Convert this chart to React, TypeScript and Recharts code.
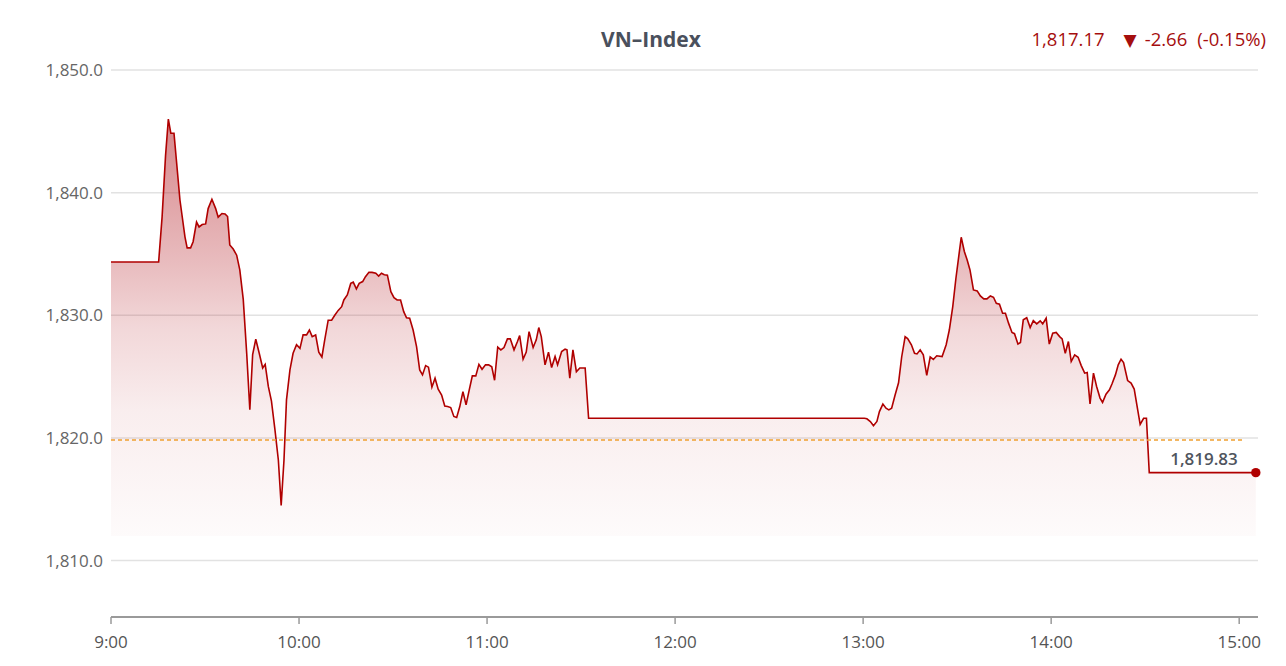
import React from 'react';
import {
  AreaChart, Area, XAxis, YAxis, CartesianGrid, ReferenceLine, ReferenceDot
} from 'recharts';

// minutes after 9:00 and index value
const morningTimes = [
  0, 15.2, 16.3, 17.4, 18.3, 19.1, 20.1, 22.0, 23.6, 24.3, 25.4, 26.2, 27.3, 28.1, 29.1, 30.2,
  31.0, 32.2, 33.4, 34.2, 35.4, 36.4, 37.2, 37.9, 39.0, 40.1, 41.1, 42.2, 43.3, 44.3, 45.2, 46.2,
  47.3, 48.4, 49.2, 50.2, 51.2, 52.3, 53.4, 54.3, 55.2, 56.0, 57.1, 58.1, 59.2, 60.3, 61.3, 62.4,
  63.3, 64.2, 65.3, 66.3, 67.3, 68.2, 69.3, 70.4, 71.4, 72.5, 73.6, 74.3, 75.4, 76.5, 77.3, 78.3,
  79.2, 80.3, 81.2, 82.3, 83.3, 84.5, 85.4, 86.3, 87.2, 88.2, 89.3, 90.3, 91.3, 92.4, 93.4, 94.3,
  95.3, 96.4, 97.5, 98.5, 99.4, 100.4, 101.3, 102.4, 103.4, 104.4, 105.5, 106.5, 107.4, 108.4,
  109.4, 110.3, 111.3, 112.3, 113.3, 114.3, 115.3, 116.4, 117.4, 118.4, 119.5, 120.5, 121.5,
  122.4, 123.4, 124.4, 125.4, 126.5, 127.4, 128.6, 129.7, 130.4, 131.5, 132.5, 133.4, 134.7,
  135.7, 136.5, 137.3, 138.5, 139.6, 140.6, 141.7, 142.5, 143.8, 144.9, 145.5, 146.4, 147.4,
  148.5, 149.6, 151.3, 152.4,
];
const morningValues = [
  1834.35, 1834.35, 1838.0, 1843.0, 1846.0, 1844.84, 1844.84, 1839.4, 1836.4, 1835.5, 1835.5, 1836.0, 1837.6, 1837.2, 1837.4, 1837.45,
  1838.7, 1839.46, 1838.7, 1838.0, 1838.3, 1838.26, 1838.05, 1835.74, 1835.4, 1834.9, 1833.7, 1831.3, 1826.9, 1822.3, 1826.8, 1828.05,
  1826.9, 1825.7, 1826.0, 1824.2, 1823.0, 1820.7, 1818.2, 1814.5, 1818.2, 1823.1, 1825.55, 1826.9, 1827.6, 1827.3, 1828.4, 1828.4,
  1828.8, 1828.26, 1828.4, 1827.0, 1826.6, 1828.0, 1829.6, 1829.6, 1830.0, 1830.4, 1830.7, 1831.25, 1831.66, 1832.6, 1832.7, 1832.15,
  1832.6, 1832.75, 1833.15, 1833.5, 1833.5, 1833.43, 1833.2, 1833.43, 1833.3, 1833.27, 1831.93, 1831.44, 1831.25, 1831.25, 1830.3, 1829.8,
  1829.76, 1828.8, 1827.45, 1825.55, 1825.14, 1825.9, 1825.77, 1824.14, 1824.87, 1823.98, 1823.5, 1822.6, 1822.56, 1822.48,
  1821.75, 1821.67, 1822.56, 1823.78, 1822.7, 1823.9, 1825.06, 1825.06, 1826.0, 1825.6, 1825.96, 1825.96, 1825.8,
  1824.7, 1827.4, 1827.18, 1827.37, 1828.08, 1828.08, 1827.18, 1827.86, 1828.35, 1826.42, 1827.0, 1828.67, 1827.37,
  1828.0, 1829.0, 1828.26, 1825.96, 1826.99, 1825.74, 1826.64, 1825.96, 1827.04, 1827.24, 1827.18, 1824.87, 1827.18,
  1825.4, 1825.7, 1825.7, 1821.6,
];

const afternoonTimes = [
  240.4, 241.2, 242.3, 243.3, 244.4, 245.2, 246.3, 247.3, 248.2, 249.1, 250.2, 251.3, 252.3, 253.4, 254.2,
  255.4, 256.4, 257.2, 258.2, 259.2, 260.3, 261.4, 262.4, 263.5, 265.2, 266.5, 267.5, 268.6, 269.6, 271.3,
  272.3, 273.2, 274.1, 275.2, 276.4, 277.4, 278.5, 279.5, 280.6, 281.6, 282.5, 283.5, 284.5, 285.4, 286.4,
  287.5, 288.3, 289.4, 290.2, 291.1, 292.2, 293.3, 294.3, 295.4, 296.5, 297.3, 298.4, 299.4, 300.5, 301.6,
  302.7, 303.5, 304.5, 305.5, 306.4, 307.5, 308.6, 309.6, 310.7, 311.5, 312.4, 313.5, 314.5, 315.6, 316.4,
  317.5, 318.6, 319.4, 320.5, 321.4, 322.3, 323.1, 324.4, 325.5, 326.5, 327.6, 328.4, 329.5, 330.4, 331.3,
  365.3,
];
const afternoonValues = [
  1821.6, 1821.56, 1821.34, 1821.0, 1821.34, 1822.15, 1822.76, 1822.42, 1822.29, 1822.42, 1823.5, 1824.5, 1826.6, 1828.26, 1828.1,
  1827.6, 1826.9, 1826.85, 1827.18, 1826.77, 1825.1, 1826.6, 1826.4, 1826.7, 1826.64, 1827.6, 1828.8, 1830.7, 1833.0, 1836.36,
  1835.2, 1834.5, 1833.7, 1832.07, 1831.99, 1831.58, 1831.34, 1831.34, 1831.58, 1831.47, 1830.98, 1830.9, 1830.17, 1830.17, 1829.36,
  1828.6, 1828.5, 1827.65, 1827.78, 1829.63, 1829.8, 1829.0, 1829.57, 1829.3, 1829.55, 1829.3, 1829.76, 1827.65, 1828.54, 1828.6,
  1828.26, 1828.08, 1826.9, 1827.86, 1826.23, 1826.77, 1826.58, 1825.9, 1825.28, 1825.33, 1822.78, 1825.28, 1824.2, 1823.25, 1822.9,
  1823.57, 1823.92, 1824.4, 1825.14, 1825.96, 1826.42, 1826.15, 1824.68, 1824.47, 1823.98, 1822.3, 1821.1, 1821.6, 1821.6, 1817.17,
  1817.17,
];

const xTicks = [0, 60, 120, 180, 240, 300, 360];
const xTickLabels = ['9:00', '10:00', '11:00', '12:00', '13:00', '14:00', '15:00'];
const yTicks = [1810, 1820, 1830, 1840, 1850];

const refValue = 1819.83;
const headerPrice = '1,817.17';
const headerChange = '-2.66';
const headerPct = '(-0.15%)';

const data = [
  ...morningTimes.map((t, i) => ({ t, v: morningValues[i] })),
  ...afternoonTimes.map((t, i) => ({ t, v: afternoonValues[i] })),
];
const last = data[data.length - 1];

const RED = '#b00000';

const fmtY = (v: number) =>
  v.toLocaleString('en-US', { minimumFractionDigits: 1, maximumFractionDigits: 1 });

const RefLabel = (props: any) => {
  const vb = props.viewBox || {};
  return (
    <text
      x={vb.x + vb.width - 38}
      y={vb.y + 25}
      textAnchor="middle"
      fill="#50555e"
      fontSize={17}
      fontWeight={600}
      fontFamily='"Open Sans", sans-serif'
    >
      {refValue.toLocaleString('en-US', { minimumFractionDigits: 2 })}
    </text>
  );
};

export default function App() {
  return (
    <div
      style={{
        position: 'absolute', left: 0, top: 0, width: 1286, height: 666,
        background: '#fff', fontFamily: '"Open Sans", sans-serif',
      }}
    >
      <div
        style={{
          position: 'absolute', left: 0, width: 1302, top: 25, height: 28, lineHeight: '28px',
          textAlign: 'center', fontSize: 21, fontWeight: 700, color: '#4a505c',
        }}
      >
        VN–Index
      </div>
      <div
        style={{
          position: 'absolute', right: 20, top: 26, height: 26, lineHeight: '26px',
          fontSize: 18.5, color: '#a50e0e', whiteSpace: 'nowrap',
        }}
      >
        <span>{headerPrice}</span>
        <span style={{ marginLeft: 19, fontFamily: '"DejaVu Sans", sans-serif', fontSize: 17 }}>▼</span>
        <span style={{ marginLeft: 8 }}>{headerChange}</span>
        <span style={{ marginLeft: 10 }}>{headerPct}</span>
      </div>
      <div style={{ position: 'absolute', left: 0, top: 0 }}>
        <AreaChart
          width={1286}
          height={666}
          data={data}
          margin={{ top: 70, right: 28, left: 11, bottom: 9 }}
        >
          <defs>
            <linearGradient id="vnFill" x1="0" y1="0" x2="0" y2="1">
              <stop offset="0%" stopColor="#b5222a" stopOpacity={0.55} />
              <stop offset="35%" stopColor="#b5222a" stopOpacity={0.3} />
              <stop offset="50%" stopColor="#b5222a" stopOpacity={0.18} />
              <stop offset="70%" stopColor="#b5222a" stopOpacity={0.08} />
              <stop offset="100%" stopColor="#b5222a" stopOpacity={0.02} />
            </linearGradient>
          </defs>
          <CartesianGrid vertical={false} stroke="#e2e2e2" strokeWidth={1.5} />
          <XAxis
            dataKey="t"
            type="number"
            domain={[0, 366]}
            ticks={xTicks}
            tickFormatter={(v: number) => xTickLabels[xTicks.indexOf(v)]}
            height={40}
            axisLine={{ stroke: '#9a9a9a', strokeWidth: 2 }}
            tickLine={{ stroke: '#9a9a9a', strokeWidth: 1.5 }}
            tickSize={7}
            tickMargin={12}
            tick={{ fill: '#555', fontSize: 17, fontFamily: '"Open Sans", sans-serif' }}
          />
          <YAxis
            type="number"
            domain={[1805.4, 1850]}
            ticks={yTicks}
            tickFormatter={fmtY}
            width={100}
            axisLine={false}
            tickLine={false}
            tick={{ fill: '#666', fontSize: 17, fontFamily: '"Open Sans", sans-serif' }}
          />
          <Area
            type="linear"
            dataKey="v"
            stroke={RED}
            strokeWidth={1.6}
            fill="url(#vnFill)"
            fillOpacity={1}
            baseValue={1812}
            dot={false}
            activeDot={false}
            isAnimationActive={false}
          />
          <ReferenceLine
            segment={[{ x: 0, y: refValue }, { x: 360.9, y: refValue }]}
            stroke="#f0a030"
            strokeWidth={1.3}
            strokeDasharray="4 3"
            label={<RefLabel />}
          />
          <ReferenceDot
            x={last.t}
            y={last.v}
            r={4.7}
            fill={RED}
            stroke="none"
            ifOverflow="visible"
          />
        </AreaChart>
      </div>
    </div>
  );
}
